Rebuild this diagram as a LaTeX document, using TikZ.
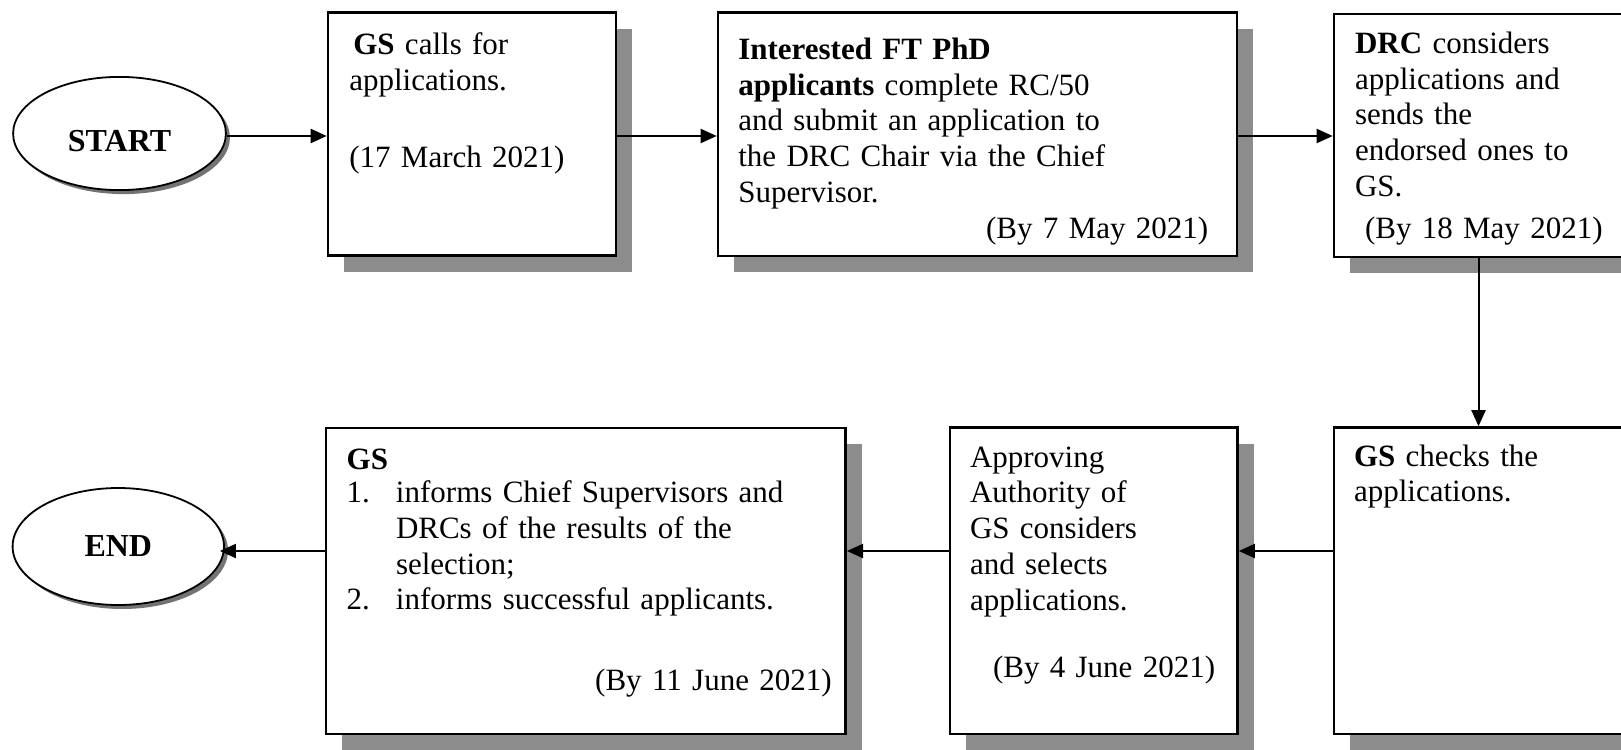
\documentclass[tikz,border=0pt]{standalone}
\usepackage{fontspec}
\setmainfont{Liberation Serif}
\usetikzlibrary{arrows.meta,shapes.geometric,shadows,fit}

\begin{document}
\begin{tikzpicture}[x=0.5pt,y=-0.5pt,
  stepbox/.style={draw, line width=1.3pt, fill=white, inner sep=0pt,
    drop shadow={shadow xshift=8pt, shadow yshift=-8pt, fill=black!45, opacity=1}},
  txt/.style={anchor=base west, inner sep=0pt, outer sep=0pt, align=left,
    font=\fontsize{15.5}{17.9}\selectfont},
  term/.style={ellipse, draw, line width=0.9pt, fill=white, inner sep=0pt,
    font=\fontsize{16}{18}\selectfont\bfseries,
    drop shadow={shadow xshift=2pt, shadow yshift=-2pt, fill=black!55, opacity=1}},
  arr/.style={line width=1pt, -{Triangle[length=8pt,width=7pt]}}
]
\useasboundingbox (0,0) rectangle (1621,749);
\fill[white] (0,0) rectangle (1621,749);
\clip (0,0) rectangle (1621,749);

% terminals
\node[term, minimum width=106.4pt, minimum height=56.6pt] (start) at (119.5,133.5) {\raisebox{-9pt}[0pt][0pt]{START}};
\node[term, minimum width=105.7pt, minimum height=58.5pt] (end) at (118.3,546.5) {END};

% boxes
\node[stepbox, fit={(328,12.7) (616,255.5)}] (b1) {};
\node[stepbox, fit={(718,12.7) (1237,256)}] (b2) {};
\node[stepbox, fit={(1334,14) (1623,257)}] (b3) {};
\node[stepbox, fit={(1334,427.5) (1623,734)}] (b4) {};
\node[stepbox, fit={(950,427.5) (1237.5,734)}] (b5) {};
\node[stepbox, fit={(326,428) (845.7,734)}] (b6) {};

% texts
\node[txt, text width=130pt] (t1) at (349.3,54.5)
  {\hspace*{2pt}\textbf{GS} calls for\\applications.\\[20.6pt](17 March 2021)};
\node[txt, text width=235pt] (t2) at (738.3,59.3)
  {\textbf{Interested FT PhD}\\\textbf{applicants} complete RC/50\\and submit an application to\\the DRC Chair via the Chief\\Supervisor.\\\makebox[\linewidth][r]{(By 7 May 2021)}};
\node[txt, text width=130pt] (t3) at (1355,53.3)
  {\textbf{DRC} considers\\applications and\\sends the\\endorsed ones to\\GS.\\[3.3pt]\hspace*{5pt}(By 18 May 2021)};
\node[txt, text width=130pt] (t4) at (1354,466)
  {\textbf{GS} checks the\\applications.};
\node[txt, text width=130pt] (t5) at (970,467)
  {Approving\\Authority of\\GS considers\\and selects\\applications.\\[15.5pt]\hspace*{11.5pt}(By 4 June 2021)};
\node[txt, text width=242.5pt] (t6) at (346.7,469.7)
  {\textbf{GS}\\[-1.5pt]\makebox[24.65pt][l]{1.}informs Chief Supervisors and\\\hspace*{24.65pt}DRCs of the results of the\\\hspace*{24.65pt}selection;\\\makebox[24.65pt][l]{2.}informs successful applicants.\\[22.15pt]\makebox[\linewidth][r]{(By 11 June 2021)}};

% connectors
\coordinate (toprow) at (0,136);
\coordinate (lowrow) at (0,551);
\draw[arr] (start.east |- toprow) -- (b1.west |- toprow);
\draw[arr] (b1.east |- toprow) -- (b2.west |- toprow);
\draw[arr] (b2.east |- toprow) -- (b3.west |- toprow);
\draw[arr] (b3.south) -- (b4.north);
\draw[arr] (b4.west |- lowrow) -- (b5.east |- lowrow);
\draw[arr] (b5.west |- lowrow) -- (b6.east |- lowrow);
\draw[arr, shorten >=-2.5pt] (b6.west |- lowrow) -- (end.east |- lowrow);
\end{tikzpicture}
\end{document}
